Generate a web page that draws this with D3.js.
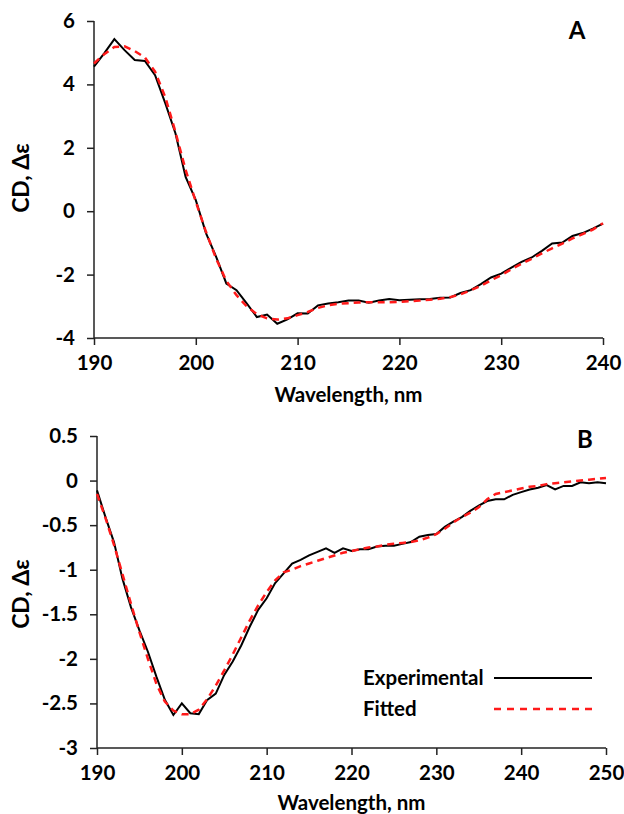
<!DOCTYPE html>
<html>
<head>
<meta charset="utf-8">
<script src="https://cdn.jsdelivr.net/npm/d3@7"></script>
<style>
  body { margin: 0; background: #fff; }
  svg text { font-family: Lato, "Open Sans", sans-serif; font-weight: bold; fill: #000; }
  .axis path, .axis line { stroke: #222; stroke-width: 1.5; }
</style>
</head>
<body>
<script>
// Panel A: 190-240 nm, 1 nm steps
var wlA = d3.range(190, 241);
var expA = [4.56, 4.98, 5.43, 5.08, 4.77, 4.74, 4.29, 3.41, 2.46, 1.08,
            0.35, -0.69, -1.44, -2.28, -2.49, -2.91, -3.34, -3.26, -3.55, -3.41,
            -3.22, -3.23, -2.97, -2.91, -2.87, -2.82, -2.82, -2.89, -2.82, -2.77,
            -2.81, -2.79, -2.78, -2.77, -2.73, -2.72, -2.58, -2.49, -2.30, -2.09,
            -1.97, -1.78, -1.60, -1.46, -1.25, -1.02, -0.99, -0.78, -0.69, -0.55,
            -0.39];
var fitA = [4.66, 4.95, 5.18, 5.20, 5.05, 4.85, 4.40, 3.60, 2.50, 1.30,
            0.30, -0.65, -1.50, -2.20, -2.65, -3.00, -3.25, -3.38, -3.42, -3.38,
            -3.28, -3.18, -3.05, -2.97, -2.92, -2.90, -2.88, -2.87, -2.87, -2.87,
            -2.86, -2.84, -2.82, -2.79, -2.76, -2.71, -2.62, -2.50, -2.35, -2.18,
            -2.02, -1.83, -1.66, -1.50, -1.33, -1.17, -1.02, -0.86, -0.72, -0.58,
            -0.38];

// Panel B: 190-250 nm, 1 nm steps
var wlB = d3.range(190, 251);
var expB = [-0.11, -0.41, -0.69, -1.10, -1.42, -1.68, -1.92, -2.20, -2.46, -2.63,
            -2.50, -2.61, -2.62, -2.46, -2.39, -2.18, -2.03, -1.85, -1.64, -1.45,
            -1.32, -1.15, -1.04, -0.93, -0.89, -0.84, -0.80, -0.76, -0.81, -0.76,
            -0.79, -0.77, -0.77, -0.74, -0.73, -0.73, -0.71, -0.69, -0.63, -0.61,
            -0.60, -0.52, -0.46, -0.41, -0.34, -0.28, -0.23, -0.21, -0.21, -0.16,
            -0.13, -0.10, -0.08, -0.05, -0.10, -0.06, -0.06, -0.02, -0.03, -0.02,
            -0.03];
var fitB = [-0.15, -0.42, -0.72, -1.05, -1.38, -1.70, -2.00, -2.28, -2.48, -2.58,
            -2.62, -2.62, -2.57, -2.45, -2.30, -2.13, -1.95, -1.76, -1.57, -1.40,
            -1.25, -1.12, -1.03, -1.00, -0.96, -0.93, -0.90, -0.87, -0.84, -0.81,
            -0.79, -0.77, -0.75, -0.74, -0.72, -0.71, -0.70, -0.69, -0.67, -0.64,
            -0.60, -0.54, -0.47, -0.41, -0.36, -0.30, -0.21, -0.15, -0.13, -0.11,
            -0.09, -0.07, -0.06, -0.04, -0.03, -0.02, -0.01, 0.00, 0.01, 0.02,
            0.03];

var ticksXA = [190, 200, 210, 220, 230, 240];
var ticksYA = [-4, -2, 0, 2, 4, 6];
var ticksXB = [190, 200, 210, 220, 230, 240, 250];
var ticksYB = [-3, -2.5, -2, -1.5, -1, -0.5, 0, 0.5];
var legendLabels = ["Experimental", "Fitted"];

var svg = d3.select("body").append("svg")
    .attr("width", 624)
    .attr("height", 814);

function panel(opts) {
  var x = d3.scaleLinear().domain(opts.xd).range(opts.xr);
  var y = d3.scaleLinear().domain(opts.yd).range(opts.yr);
  var g = svg.append("g");

  g.append("g")
      .attr("class", "axis")
      .attr("transform", "translate(0," + opts.yr[0] + ")")
      .call(d3.axisBottom(x).tickValues(opts.tx).tickSize(7).tickPadding(10).tickFormat(d3.format("d")))
      .call(function(a) { a.selectAll("text").style("font-size", "20.5px").attr("dy", "0.71em"); })
      .call(function(a) { a.select(".domain").attr("d", "M" + opts.xr[0] + ",0H" + opts.xr[1]); });

  g.append("g")
      .attr("class", "axis")
      .attr("transform", "translate(" + opts.xr[0] + ",0)")
      .call(d3.axisLeft(y).tickValues(opts.ty).tickSize(7).tickPadding(12).tickFormat(function(d) { return String(d); }))
      .call(function(a) { a.selectAll("text").style("font-size", "20.5px"); })
      .call(function(a) { a.select(".domain").attr("d", "M0," + opts.yr[0] + "V" + opts.yr[1]); });

  var line = d3.line()
      .x(function(d, i) { return x(opts.wl[i]); })
      .y(function(d) { return y(d); });

  g.append("path")
      .datum(opts.exp)
      .attr("fill", "none")
      .attr("stroke", "#000")
      .attr("stroke-width", 2)
      .attr("d", line);

  g.append("path")
      .datum(opts.fit)
      .attr("fill", "none")
      .attr("stroke", "#ff1a1a")
      .attr("stroke-width", 2.5)
      .attr("stroke-dasharray", "7,5")
      .attr("d", line);

  // x title
  g.append("text")
      .attr("x", (opts.xr[0] + opts.xr[1]) / 2)
      .attr("y", opts.xTitleY)
      .attr("text-anchor", "middle")
      .style("font-size", "20.5px")
      .text("Wavelength, nm");

  // y title
  g.append("text")
      .attr("transform", "translate(" + 29 + "," + opts.yTitleY + ") rotate(-90)")
      .attr("text-anchor", "middle")
      .style("font-size", "23px")
      .text("CD, Δε");

  g.append("text")
      .attr("x", opts.letterX)
      .attr("y", opts.letterY)
      .attr("text-anchor", "middle")
      .style("font-size", "24px")
      .text(opts.letter);

  return { x: x, y: y, g: g };
}

panel({
  wl: wlA, exp: expA, fit: fitA,
  xd: [190, 240], xr: [94, 603],
  yd: [-4, 6], yr: [338, 21],
  tx: ticksXA, ty: ticksYA,
  xTitleY: 402, yTitleY: 178,
  letter: "A", letterX: 577, letterY: 39
});

panel({
  wl: wlB, exp: expB, fit: fitB,
  xd: [190, 250], xr: [97, 606],
  yd: [-3, 0.5], yr: [748, 436],
  tx: ticksXB, ty: ticksYB,
  xTitleY: 810, yTitleY: 594,
  letter: "B", letterX: 585, letterY: 448
});

// legend
var leg = svg.append("g");
legendLabels.forEach(function(lbl, i) {
  var yy = 678 + i * 31;
  leg.append("text")
      .attr("x", 363)
      .attr("y", yy + 7)
      .style("font-size", "20.5px")
      .text(lbl);
  leg.append("line")
      .attr("x1", 494).attr("x2", 592)
      .attr("y1", yy).attr("y2", yy)
      .attr("stroke", i === 0 ? "#000" : "#ff1a1a")
      .attr("stroke-width", i === 0 ? 2 : 2.5)
      .attr("stroke-dasharray", i === 0 ? null : "7,6");
});
</script>
</body>
</html>
